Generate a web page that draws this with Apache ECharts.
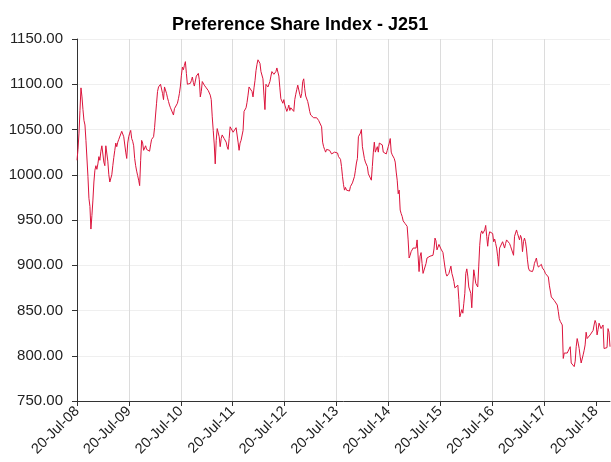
<!DOCTYPE html>
<html><head><meta charset="utf-8">
<script src="https://cdn.jsdelivr.net/npm/echarts@6/dist/echarts.min.js"></script>
<style>html,body{margin:0;padding:0;background:#fff}#c{width:611px;height:462px}</style>
</head><body><div id="c"></div>
<script>
const titleText = 'Preference Share Index - J251';
const stepDays = 7; // weekly readings starting 20-Jul-08
const tickLabels = ['20-Jul-08','20-Jul-09','20-Jul-10','20-Jul-11','20-Jul-12','20-Jul-13','20-Jul-14','20-Jul-15','20-Jul-16','20-Jul-17','20-Jul-18'];
const yMin = 750, yMax = 1150, yStep = 50;

const seg2008 = [1016,1028,1046,1071,1096,1086,1072,1060,1055,1038,
1036,998,974,965,940,955,972,992,1005,1010,
1006,1012,1020,1016,1026,1032,1030,1014,1010,1032,
1033,1015,1000,992,992,1000,1010,1019,1027,1035,
1031,1036,1039,1040,1041,1048,1047,1042,1040,1025,
1018,1035,1042,1046,1049,1040,1037,1032,1018,1010,
1004,999,994,988,1016,1038,1035,1027,1026,1032,
1028,1027,1027,1026,1033,1039,1041,1042,1052,1066,
1079,1092,1097,1098];
const seg2010 = [1100,1099,1090,1083,1097,1095,1090,1085,1081,1077,
1074,1073,1073,1066,1073,1071,1074,1079,1084,1090,
1098,1110,1119,1116,1121,1125,1112,1100,1098,1100,
1101,1104,1108,1102,1098,1100,1109,1110,1112,1105,
1086,1092,1103,1102,1099,1097,1096,1094,1093,1091,
1088,1083,1064,1049,1034,1012,1038,1051,1052,1042,
1031,1040,1044,1045,1040,1038,1036,1031,1028,1040,
1053,1053,1052,1047,1046,1048,1052,1050,1036,1027,
1035,1038,1040,1049,1070,1071,1074,1080,1088,1097];
const seg2011 = [1096,
1095,1092,1086,1096,1104,1115,1122,1127,1129,1123,
1114,1116,1106,1088,1072,1100,1101,1097,1098,1103,
1109,1114,1115,1111,1110,1114,1118,1120,1109,1096,
1084,1082,1079,1083,1077,1075,1070,1073,1077,1071,
1074,1072,1074,1070,1083,1089,1094,1099,1097,1089,
1085,1090,1103,1106,1095,1087,1085,1081,1076,1070,
1066,1067,1065,1063,1061,1063,1063,1064,1060,1061,
1059,1053,1036,1031,1028,1025,1028,1028,1026,1027,
1025,1023,1025,1024,1025,1026,1027,1024,1020,1018];
const seg2013 = [1017,1009,998,989,983,986,983,985,981,982,
987,986,991,992,998,1005,1013,1018,1042,1041,
1046,1050,1031,1029,1018,1014,1016,1009,1001,1002,
1000,994,1009,1025,1036,1025,1024,1031,1025,1035,
1036,1035,1033,1025,1023,1024,1023,1027,1031,1035,
1040,1025,1022,1020,1018,1014,1003,994,979,983,
961,957,954,949,948,946,948,943,928,908,
911,915,917,919,919,921,919,928,930,893,
910,914,902,891,889,890,902,908,908,909];
const seg2015 = [910,910,909,911,918,930,927,917,919,923,
922,918,917,914,906,898,891,888,888,891,
895,899,891,887,882,875,873,876,878,862,
843,847,851,847,858,869,891,896,888,876,
876,869,853,876,895,888,880,878,876,899,
922,935,938,935,933,939,944,932,921,932,
937,935,937,935,926,929,924,919,910,899,
919,921,919,926,924,919,924,928,930,929,
924,921,922,919,911,932,930,939,935];
const seg2017 = [937,928,933,930,915,926,930,926,918,906,
897,894,894,892,893,896,902,905,908,901,
898,900,899,901,897,899,894,891,892,890,
887,878,880,865,863,864,861,861,860,856,
849,841,838,839,834,797,803,803,802,803,
801,803,810,792,790,791,788,794,810,819,
814,808,799,792,793,801,806,812,826,819,
821,817,823,821,825,828,834,839,836,823,
829,836,834,830,828,834,808,808,808,809,
830,826,810];

const values = [].concat(seg2008, seg2010, seg2011, seg2013, seg2015, seg2017);
const daysPerYear = 365.25;
const seriesData = values.map((v, i) => [i * stepDays, v]);
const tickDays = tickLabels.map((_, i) => i * daysPerYear);
const lastDay = (values.length - 1) * stepDays;
const FONT = 'Liberation Sans, Arial, sans-serif';

const chart = echarts.init(document.getElementById('c'), null, {renderer: 'canvas'});
chart.setOption({
  animation: false,
  backgroundColor: '#fff',
  title: {
    text: titleText,
    left: 167, top: 11,
    textStyle: {fontFamily: FONT, fontWeight: 'bold', fontSize: 18, color: '#000'}
  },
  grid: {left: 77, right: 1, top: 39, bottom: 61, containLabel: false},
  xAxis: {
    type: 'value', min: 0, max: lastDay, interval: daysPerYear,
    axisLine: {show: true, lineStyle: {color: '#333', width: 1}},
    axisTick: {show: true, length: 5, customValues: tickDays, lineStyle: {color: '#333'}},
    axisLabel: {
      customValues: tickDays, rotate: 45, margin: 8,
      fontFamily: FONT, fontSize: 14.5, color: '#222',
      formatter: v => tickLabels[Math.round(v / daysPerYear)] || ''
    },
    splitLine: {show: true, showMinLine: false, showMaxLine: false, lineStyle: {color: '#dcdcdc', width: 1}}
  },
  yAxis: {
    type: 'value', min: yMin, max: yMax, interval: yStep,
    axisLine: {show: true, lineStyle: {color: '#333', width: 1}},
    axisTick: {show: true, length: 5, lineStyle: {color: '#333'}},
    axisLabel: {margin: 14, fontFamily: FONT, fontSize: 15, color: '#222', formatter: v => v.toFixed(2)},
    splitLine: {show: true, lineStyle: {color: '#efefef', width: 1}}
  },
  series: [{
    type: 'line', data: seriesData, showSymbol: false, symbol: 'none',
    lineStyle: {color: '#dc143c', width: 1}, itemStyle: {color: '#dc143c'}
  }]
});
</script>
</body></html>
